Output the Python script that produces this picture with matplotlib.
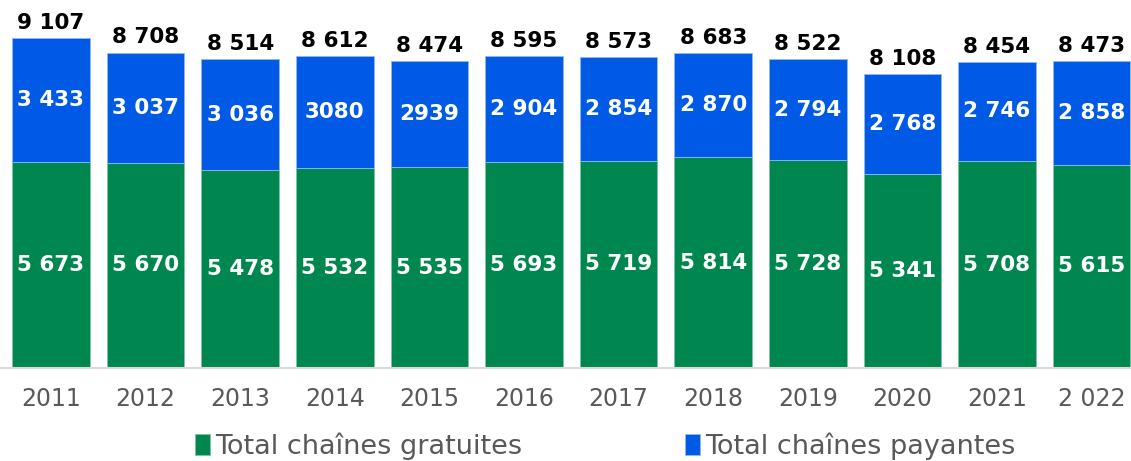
import matplotlib.pyplot as plt
import numpy as np

# data
years = ["2011", "2012", "2013", "2014", "2015", "2016",
         "2017", "2018", "2019", "2020", "2021", "2 022"]
gratuites = [5673, 5670, 5478, 5532, 5535, 5693, 5719, 5814, 5728, 5341, 5708, 5615]
payantes = [3433, 3037, 3036, 3080, 2939, 2904, 2854, 2870, 2794, 2768, 2746, 2858]
totals = [9107, 8708, 8514, 8612, 8474, 8595, 8573, 8683, 8522, 8108, 8454, 8473]
lbl_gratuites = ["5 673", "5 670", "5 478", "5 532", "5 535", "5 693",
                 "5 719", "5 814", "5 728", "5 341", "5 708", "5 615"]
lbl_payantes = ["3 433", "3 037", "3 036", "3080", "2939", "2 904",
                "2 854", "2 870", "2 794", "2 768", "2 746", "2 858"]
lbl_totals = ["9 107", "8 708", "8 514", "8 612", "8 474", "8 595",
              "8 573", "8 683", "8 522", "8 108", "8 454", "8 473"]

green = "#00874F"
blue = "#005AE6"

fig = plt.figure(figsize=(11.31, 4.61), dpi=100)
ax = fig.add_axes([0, 93 / 461, 1, 368 / 461])

x = np.arange(len(years))
w = 0.82
ax.bar(x, gratuites, w, color=green, edgecolor="#7fc3a5", linewidth=0.6,
       label="Total chaînes gratuites")
ax.bar(x, payantes, w, bottom=gratuites, color=blue, edgecolor="#8fb8f5",
       linewidth=0.6, label="Total chaînes payantes")

for i in range(len(years)):
    g, p = gratuites[i], payantes[i]
    ax.text(x[i], g / 2, lbl_gratuites[i], ha="center", va="center",
            color="white", fontsize=15.5, fontweight="bold")
    ax.text(x[i], g + p / 2, lbl_payantes[i], ha="center", va="center",
            color="white", fontsize=15.5, fontweight="bold")
    ax.text(x[i], g + p + 140, lbl_totals[i], ha="center", va="bottom",
            color="black", fontsize=15.5, fontweight="bold")

ax.set_xlim(-51 / 94.6, (1131 - 51) / 94.6)
ax.set_ylim(0, 10156)
ax.set_xticks(x)
ax.set_xticklabels(years, color="#595959", fontsize=17)
ax.tick_params(axis="x", length=0, pad=14)
ax.set_yticks([])
for s in ["top", "right", "left"]:
    ax.spines[s].set_visible(False)
ax.spines["bottom"].set_color("#d9d9d9")
ax.spines["bottom"].set_linewidth(1.5)

leg = fig.legend(loc="lower center", bbox_to_anchor=(0.535, -0.05), ncol=2,
                 frameon=False, fontsize=19.5, handlelength=0.55, handleheight=0.8,
                 handletextpad=0.2, columnspacing=6.0, labelcolor="#595959")

fig.savefig("out.png", dpi=100)
